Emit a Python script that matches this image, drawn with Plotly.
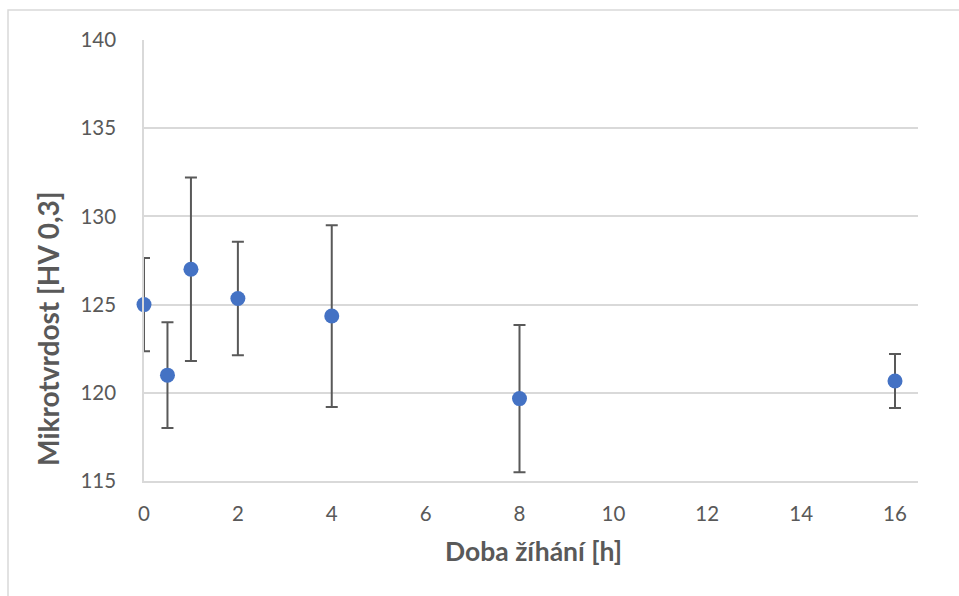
import plotly.graph_objects as go

# Annealing time [h] and measured microhardness HV 0.3 with its spread
doba_h = [0, 0.5, 1, 2, 4, 8, 16]
tvrdost = [125.0, 121.0, 127.0, 125.35, 124.35, 119.67, 120.67]
odchylka = [2.64, 3.0, 5.2, 3.22, 5.15, 4.17, 1.53]

y_ticks = [115, 120, 125, 130, 135, 140]
x_ticks = [0, 2, 4, 6, 8, 10, 12, 14, 16]

FONT = "Lato"
TEXT = "#595959"
GRID = "#d9d9d9"

fig = go.Figure()
fig.add_trace(go.Scatter(
    x=doba_h,
    y=tvrdost,
    mode="markers",
    marker=dict(color="#4472c4", size=15),
    error_y=dict(type="data", array=odchylka, visible=True,
                 color="#595959", thickness=2, width=6),
    cliponaxis=False,
    showlegend=False,
))

# outer chart frame
fig.add_shape(type="rect", xref="paper", yref="paper",
              x0=-0.1757, x1=1.06, y0=-0.3, y1=1.068,
              line=dict(color=GRID, width=1.5), fillcolor="rgba(0,0,0,0)",
              layer="below")

# axis titles, placed relative to the whole chart area
fig.add_annotation(text="<b>Doba žíhání [h]</b>", xref="paper", yref="paper",
                   x=0.5026, y=-0.159, showarrow=False,
                   xanchor="center", yanchor="middle",
                   font=dict(size=26.5, color=TEXT, family=FONT))
fig.add_annotation(text="<b>Mikrotvrdost [HV 0,3]</b>", xref="paper", yref="paper",
                   x=-0.124, y=0.345, showarrow=False, textangle=-90,
                   xanchor="center", yanchor="middle",
                   font=dict(size=28, color=TEXT, family=FONT))

fig.update_layout(
    width=959, height=596,
    margin=dict(l=144, r=41, t=40, b=115),
    paper_bgcolor="white", plot_bgcolor="white",
    font=dict(family=FONT, color=TEXT, size=20.5),
    xaxis=dict(
        range=[0, 16.49], tickvals=x_ticks, ticktext=[str(v) for v in x_ticks],
        showgrid=False, zeroline=False,
        showline=True, linecolor=GRID, linewidth=1.5,
        ticks="", ticklabelstandoff=14,
    ),
    yaxis=dict(
        range=[115, 140], tickvals=y_ticks, ticktext=[str(v) for v in y_ticks],
        showgrid=True, gridcolor=GRID, gridwidth=1.5, zeroline=False,
        showline=True, linecolor=GRID, linewidth=1.5,
        ticks="", ticklabelstandoff=22,
    ),
)

fig.write_html("out.html")
